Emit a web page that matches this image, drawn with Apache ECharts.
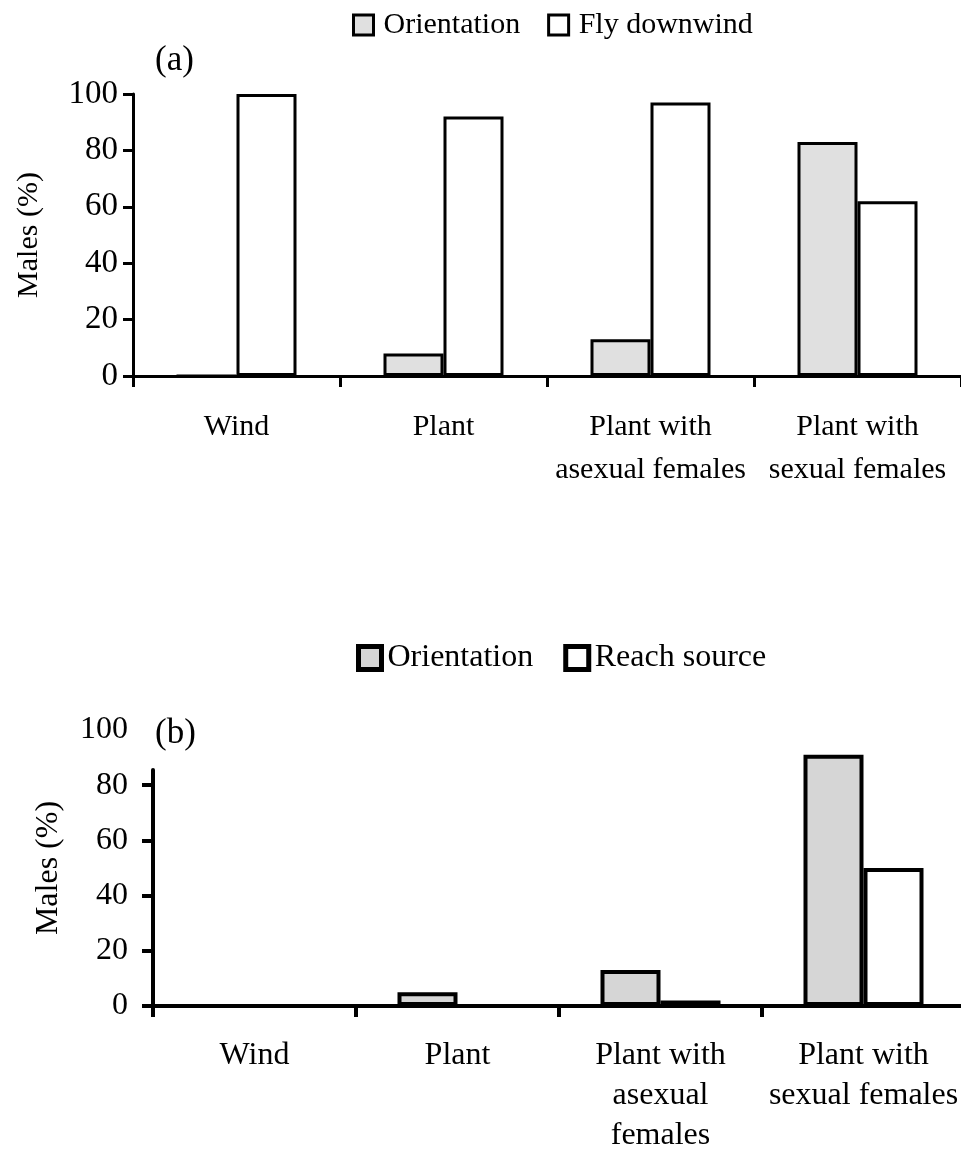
<!DOCTYPE html>
<html>
<head>
<meta charset="utf-8">
<script src="https://cdn.jsdelivr.net/npm/echarts@6/dist/echarts.min.js"></script>
<style>
  html,body{margin:0;padding:0;background:#fff;}
  #main{width:961px;height:1150px;}
</style>
</head>
<body>
<div id="main"></div>
<script>
/* categories, shared by both panels */
var catsA = ["Wind", "Plant", "Plant with\nasexual females", "Plant with\nsexual females"];
var catsB = ["Wind", "Plant", "Plant with\nasexual\nfemales", "Plant with\nsexual females"];

/* panel (a) */
var orientA = [0, 8, 13, 83];
var flyA = [100, 92, 97, 62];

/* panel (b) */
var orientB = [0, 5, 13, 91];
var reachB = [0, 0, 2, 50];

var yTicks = [0, 20, 40, 60, 80];   // (b) has no tick at 100

var serif = "Liberation Serif";
var grayA = "#e0e0e0";
var grayB = "#d6d6d6";

var myChart = echarts.init(document.getElementById("main"));
myChart.setOption({
    animation: false,
    backgroundColor: "#fff",
    textStyle: {fontFamily: serif, color: "#000"},
    title: [
        {text: "(a)", left: 150, top: 38, textStyle: {fontFamily: serif, fontSize: 35, fontWeight: "normal", color: "#000"}},
        {text: "(b)", left: 150, top: 711, textStyle: {fontFamily: serif, fontSize: 35, fontWeight: "normal", color: "#000"}}
    ],
    legend: [
        {
            left: 347, top: 5, itemWidth: 20, itemHeight: 20, itemGap: 27, icon: "rect",
            textStyle: {fontFamily: serif, fontSize: 30, color: "#000", padding: [0, 0, 0, 5]},
            data: [
                {name: "Orientation", itemStyle: {color: grayA, borderColor: "#000", borderWidth: 3}},
                {name: "Fly downwind", itemStyle: {color: "#fff", borderColor: "#000", borderWidth: 3}}
            ],
            selectedMode: false
        },
        {
            left: 351, top: 637, itemWidth: 23, itemHeight: 23, itemGap: 30, icon: "rect",
            textStyle: {fontFamily: serif, fontSize: 32, color: "#000", padding: [0, 0, 0, 1]},
            data: [
                {name: "Orientation", itemStyle: {color: grayB, borderColor: "#000", borderWidth: 5}},
                {name: "Reach source", itemStyle: {color: "#fff", borderColor: "#000", borderWidth: 5}}
            ],
            selectedMode: false
        }
    ],
    grid: [
        {left: 133, right: 0, top: 94, bottom: 774, outerBoundsMode: "none"},
        {left: 153, right: -4, top: 730, bottom: 144, outerBoundsMode: "none"},
        {left: 153, right: -4, top: 770, bottom: 144, outerBoundsMode: "none"}   // only carries the short y axis line of (b)
    ],
    xAxis: [
        {
            type: "category", gridIndex: 0, data: catsA,
            axisLine: {lineStyle: {color: "#000", width: 3}},
            axisTick: {show: true, length: 11, interval: 0, lineStyle: {color: "#000", width: 3}},
            axisLabel: {interval: 0, margin: 30, fontFamily: serif, fontSize: 30, lineHeight: 43, color: "#000"}
        },
        {
            type: "category", gridIndex: 1, data: catsB,
            axisLine: {lineStyle: {color: "#000", width: 4}},
            axisTick: {show: true, length: 11, interval: 0, lineStyle: {color: "#000", width: 4}},
            axisLabel: {interval: 0, margin: 30, fontFamily: serif, fontSize: 32, lineHeight: 40, color: "#000"}
        },
        {type: "category", gridIndex: 2, data: catsB, show: false}
    ],
    yAxis: [
        {
            type: "value", gridIndex: 0, min: 0, max: 100, interval: 20,
            name: "Males (%)", nameLocation: "middle", nameGap: 89, nameRotate: 90,
            nameTextStyle: {fontFamily: serif, fontSize: 30, color: "#000"},
            splitLine: {show: false},
            axisLine: {show: true, lineStyle: {color: "#000", width: 3}},
            axisTick: {show: true, length: 10, lineStyle: {color: "#000", width: 3}},
            axisLabel: {margin: 15, fontFamily: serif, fontSize: 33, color: "#000"}
        },
        {
            type: "value", gridIndex: 1, min: 0, max: 100, interval: 20,
            name: "Males (%)", nameLocation: "middle", nameGap: 88, nameRotate: 90,
            nameTextStyle: {fontFamily: serif, fontSize: 32, color: "#000"},
            splitLine: {show: false},
            axisLine: {show: false},
            axisTick: {show: true, length: 11, customValues: yTicks, lineStyle: {color: "#000", width: 4}},
            axisLabel: {margin: 25, fontFamily: serif, fontSize: 32, color: "#000"}
        },
        {
            type: "value", gridIndex: 2, min: 0, max: 1,
            splitLine: {show: false},
            axisLine: {show: true, lineStyle: {color: "#000", width: 4}},
            axisTick: {show: false},
            axisLabel: {show: false}
        }
    ],
    series: [
        {
            name: "Orientation", type: "bar", xAxisIndex: 0, yAxisIndex: 0,
            barWidth: 60, barGap: "0%", data: orientA,
            itemStyle: {color: grayA, borderColor: "#000", borderWidth: 3}
        },
        {
            name: "Fly downwind", type: "bar", xAxisIndex: 0, yAxisIndex: 0,
            barWidth: 60, barGap: "0%", data: flyA,
            itemStyle: {color: "#fff", borderColor: "#000", borderWidth: 3}
        },
        {
            name: "Orientation", type: "bar", xAxisIndex: 1, yAxisIndex: 1,
            barWidth: 60, barGap: "0%", data: orientB,
            itemStyle: {color: grayB, borderColor: "#000", borderWidth: 4}
        },
        {
            name: "Reach source", type: "bar", xAxisIndex: 1, yAxisIndex: 1,
            barWidth: 60, barGap: "0%", data: reachB,
            itemStyle: {color: "#fff", borderColor: "#000", borderWidth: 4}
        }
    ]
});
</script>
</body>
</html>
